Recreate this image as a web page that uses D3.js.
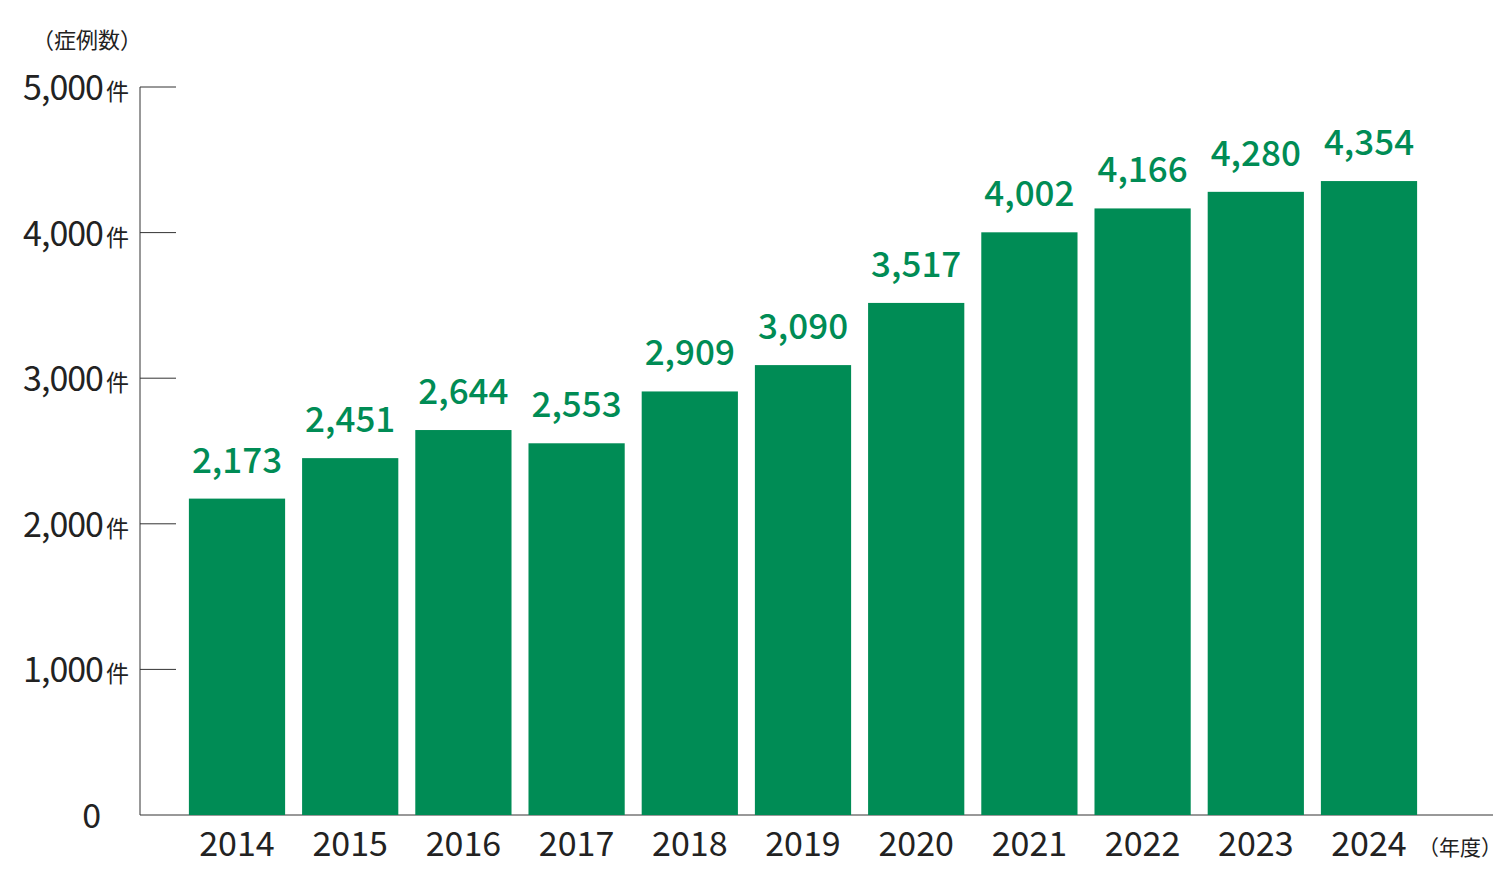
<!DOCTYPE html>
<html><head><meta charset="utf-8">
<script src="https://cdn.jsdelivr.net/npm/d3@7"></script>
<style>body{margin:0;background:#fff}svg{font-family:"Noto Sans CJK JP","Noto Sans",sans-serif}</style>
</head><body><svg id="c" width="1500" height="892"></svg>
<script>
const years = ["2014","2015","2016","2017","2018","2019","2020","2021","2022","2023","2024"];
const cases = [2173,2451,2644,2553,2909,3090,3517,4002,4166,4280,4354];
const yTicks = [0,1000,2000,3000,4000,5000];

const svg = d3.select("#c");
const green = "#008c55";
const y = d3.scaleLinear().domain([0,5000]).range([815,87]);
const x = d3.scaleBand().domain(years).range([180.4,1425.6]).paddingInner(0.15).paddingOuter(0.075);

svg.append("line").attr("x1",140).attr("x2",140).attr("y1",y(5000)).attr("y2",y(0)).attr("stroke","#333").attr("stroke-width",1);
svg.append("line").attr("x1",140).attr("x2",1493).attr("y1",y(0)).attr("y2",y(0)).attr("stroke","#333").attr("stroke-width",1);
yTicks.forEach(t=>{
  if(t>0) svg.append("line").attr("x1",140).attr("x2",176).attr("y1",y(t)).attr("y2",y(t)).attr("stroke","#333");
  const tx = svg.append("text").attr("x",t>0?128:100).attr("y",y(t)+13).attr("text-anchor","end").attr("fill","#222").attr("font-size",34).attr("letter-spacing",-1);
  tx.append("tspan").text(d3.format(",")(t));
  if(t>0) tx.append("tspan").attr("font-size",23).attr("dx",3).text("件");
});
svg.append("text").attr("x",32).attr("y",48).attr("font-size",22).attr("fill","#222").text("（症例数）");

svg.selectAll("rect.bar").data(years).join("rect").attr("class","bar")
  .attr("x",d=>x(d)).attr("width",x.bandwidth())
  .attr("y",(d,i)=>y(cases[i])).attr("height",(d,i)=>y(0)-y(cases[i])).attr("fill",green);
svg.selectAll("text.val").data(years).join("text").attr("class","val")
  .attr("x",d=>x(d)+x.bandwidth()/2).attr("y",(d,i)=>y(cases[i])-26)
  .attr("text-anchor","middle").attr("font-size",35).attr("font-weight",500).attr("fill",green)
  .text((d,i)=>d3.format(",")(cases[i]));
svg.selectAll("text.yr").data(years).join("text").attr("class","yr")
  .attr("x",d=>x(d)+x.bandwidth()/2).attr("y",856).attr("text-anchor","middle")
  .attr("font-size",34).attr("fill","#222").text(d=>d);
svg.append("text").attr("x",1418).attr("y",855).attr("font-size",21).attr("fill","#222").text("（年度）");
</script></body></html>
